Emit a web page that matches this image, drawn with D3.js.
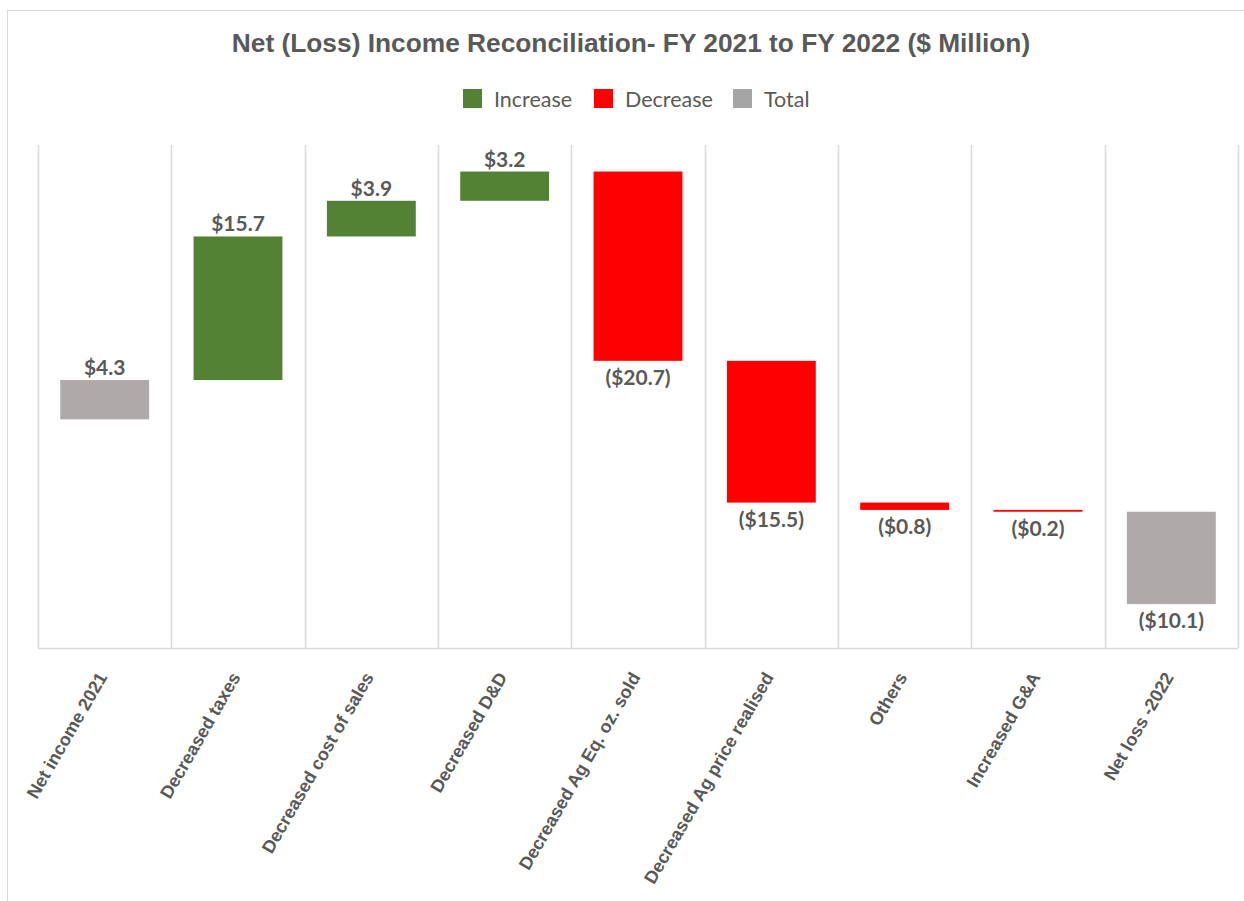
<!DOCTYPE html>
<html>
<head>
<meta charset="utf-8">
<script src="https://cdn.jsdelivr.net/npm/d3@7"></script>
<style>
  html, body { margin: 0; padding: 0; background: #ffffff; }
  svg { display: block; }
</style>
</head>
<body>
<div id="chart"></div>
<script>
// Waterfall steps: label, change and kind of step
const categories = [
  "Net income 2021", "Decreased taxes", "Decreased cost of sales", "Decreased D&D",
  "Decreased Ag Eq. oz. sold", "Decreased Ag price realised", "Others",
  "Increased G&A", "Net loss -2022"
];
const changes = [4.3, 15.7, 3.9, 3.2, -20.7, -15.5, -0.8, -0.2, -10.1];
const kinds = ["total", "increase", "increase", "increase", "decrease", "decrease", "decrease", "decrease", "total"];
const valueLabels = ["$4.3", "$15.7", "$3.9", "$3.2", "($20.7)", "($15.5)", "($0.8)", "($0.2)", "($10.1)"];
const legendKeys = ["Increase", "Decrease", "Total"];
const yDomain = [-25, 30];

const colors = { increase: "#548235", decrease: "#FF0000", total: "#AEAAAA" };
const legendColors = { Increase: "#548235", Decrease: "#FF0000", Total: "#A5A5A5" };

const W = 1244, H = 901;
const plot = { left: 38, right: 1238, top: 145, bottom: 648 };
const textColor = "#595959";
const gridColor = "#D9D9D9";

const svg = d3.select("#chart").append("svg")
  .attr("width", W).attr("height", H)
  .style("font-family", "'Liberation Sans', Arial, sans-serif");

// chart area border
svg.append("rect")
  .attr("x", 7.5).attr("y", 10.5)
  .attr("width", W + 20).attr("height", H + 20)
  .attr("fill", "none").attr("stroke", gridColor).attr("stroke-width", 1);

// Running level: each step stacks its change onto the current level
let level = 0;
const steps = categories.map((c, i) => {
  const start = level;
  const end = level + changes[i];
  level = end;
  return { cat: c, value: changes[i], kind: kinds[i], label: valueLabels[i], start, end };
});

const x = d3.scaleBand()
  .domain(categories)
  .range([plot.left, plot.right])
  .paddingInner(1 / 3)
  .paddingOuter(1 / 6);

const y = d3.scaleLinear().domain(yDomain).range([plot.bottom, plot.top]);

const gap = x.step() - x.bandwidth();

// vertical category gridlines
const grid = svg.append("g");
const bounds = categories.map(c => x(c) - gap / 2).concat([x(categories[categories.length - 1]) + x.bandwidth() + gap / 2]);
grid.selectAll("line.v").data(bounds).join("line")
  .attr("class", "v")
  .attr("x1", d => Math.round(d) + 0.5).attr("x2", d => Math.round(d) + 0.5)
  .attr("y1", plot.top).attr("y2", plot.bottom)
  .attr("stroke", gridColor).attr("stroke-width", 1.5);

// category axis
const xAxis = svg.append("g")
  .attr("transform", `translate(0,${plot.bottom})`)
  .call(d3.axisBottom(x).tickSize(0).tickPadding(0));
xAxis.select(".domain")
  .attr("d", `M${plot.left},0.5H${plot.right}`)
  .attr("stroke", gridColor).attr("stroke-width", 1.5);
xAxis.selectAll(".tick text")
  .attr("fill", textColor)
  .style("font-family", "'Liberation Sans', Arial, sans-serif")
  .style("font-weight", "bold")
  .style("font-size", "18px")
  .attr("text-anchor", "end")
  .attr("y", 0).attr("dy", 0)
  .attr("transform", "translate(3,29) rotate(-60)");

// bars
svg.append("g").selectAll("rect").data(steps).join("rect")
  .attr("x", d => x(d.cat))
  .attr("width", x.bandwidth())
  .attr("y", d => y(Math.max(d.start, d.end)))
  .attr("height", d => Math.abs(y(d.start) - y(d.end)))
  .attr("fill", d => colors[d.kind]);

// value labels: above rising steps, below falling ones
svg.append("g").selectAll("text").data(steps).join("text")
  .attr("x", d => x(d.cat) + x.bandwidth() / 2)
  .attr("y", d => d.value >= 0 ? y(Math.max(d.start, d.end)) - 5 : y(Math.min(d.start, d.end)) + 24)
  .attr("text-anchor", "middle")
  .attr("fill", textColor)
  .style("font-family", "Lato, 'Open Sans', sans-serif")
  .style("font-weight", "bold")
  .style("font-size", "21px")
  .text(d => d.label);

// title
svg.append("text")
  .attr("x", 631).attr("y", 52)
  .attr("text-anchor", "middle")
  .attr("fill", textColor)
  .style("font-weight", "bold")
  .style("font-size", "26.3px")
  .text("Net (Loss) Income Reconciliation- FY 2021 to FY 2022 ($ Million)");

// legend
const legendX = [463, 594, 733];
const legend = svg.append("g").selectAll("g").data(legendKeys).join("g")
  .attr("transform", (d, i) => `translate(${legendX[i]},89)`);
legend.append("rect")
  .attr("width", 19).attr("height", 19)
  .attr("fill", d => legendColors[d]);
legend.append("text")
  .attr("x", 31).attr("y", 17.5)
  .attr("fill", textColor)
  .style("font-family", "Lato, 'Open Sans', sans-serif")
  .style("font-size", "21.5px")
  .text(d => d);
</script>
</body>
</html>
